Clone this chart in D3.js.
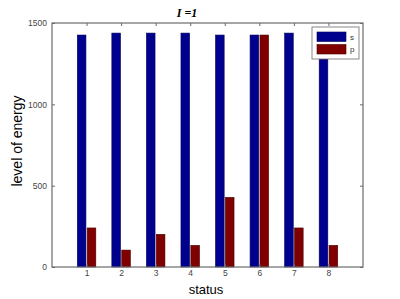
<!DOCTYPE html>
<html>
<head>
<meta charset="utf-8">
<script src="https://cdn.jsdelivr.net/npm/d3@7"></script>
<style>
  body { margin: 0; background: #fff; }
  svg { display: block; }
</style>
</head>
<body>
<div id="chart"></div>
<script>
const statuses = [1, 2, 3, 4, 5, 6, 7, 8];
const sValues = [1426, 1438, 1438, 1438, 1426, 1426, 1438, 1430];
const pValues = [240, 104, 201, 133, 428, 1426, 240, 133];
const yTicks = [0, 500, 1000, 1500];
const seriesNames = ['s', 'p'];
const colors = ['#00008f', '#800000'];

const width = 400, height = 299;
const plot = { left: 52, right: 363, top: 23, bottom: 267 };

const svg = d3.select('#chart').append('svg')
  .attr('width', width)
  .attr('height', height);

const x = d3.scaleLinear().domain([0, 9]).range([plot.left, plot.right]);
const y = d3.scaleLinear().domain([0, 1500]).range([plot.bottom, plot.top]);

// bars: two series grouped around each status
const offset = 0.143, barW = 0.25;
const series = [sValues, pValues];
series.forEach((vals, si) => {
  svg.append('g')
    .selectAll('rect')
    .data(statuses)
    .enter()
    .append('rect')
    .attr('x', d => x(d + (si === 0 ? -offset : offset) - barW / 2))
    .attr('y', (d, i) => y(vals[i]))
    .attr('width', x(barW) - x(0))
    .attr('height', (d, i) => y(0) - y(vals[i]))
    .attr('fill', colors[si])
    .attr('stroke', si === 0 ? '#00005a' : '#4a0000')
    .attr('stroke-width', 0.6);
});

// box with inward ticks (matlab style)
const axisColor = '#6b6b6b';
const tickStyle = g => {
  g.select('.domain').remove();
  g.selectAll('line').attr('stroke', axisColor);
  g.selectAll('text').attr('fill', '#444').style('font-family', 'Liberation Sans, Arial, sans-serif').style('font-size', '8.5px');
};

svg.append('g')
  .attr('transform', `translate(0,${plot.bottom})`)
  .call(d3.axisBottom(x).tickValues(statuses).tickSizeInner(-3).tickSizeOuter(0).tickPadding(3).tickFormat(d3.format('d')))
  .call(tickStyle);

svg.append('g')
  .attr('transform', `translate(0,${plot.top})`)
  .call(d3.axisTop(x).tickValues(statuses).tickSizeInner(-3).tickSizeOuter(0).tickFormat(''))
  .call(tickStyle);

svg.append('g')
  .attr('transform', `translate(${plot.left},0)`)
  .call(d3.axisLeft(y).tickValues(yTicks).tickSizeInner(-3).tickSizeOuter(0).tickPadding(5).tickFormat(d3.format('d')))
  .call(tickStyle);

svg.append('g')
  .attr('transform', `translate(${plot.right},0)`)
  .call(d3.axisRight(y).tickValues(yTicks).tickSizeInner(-3).tickSizeOuter(0).tickFormat(''))
  .call(tickStyle);

svg.append('rect')
  .attr('x', plot.left)
  .attr('y', plot.top)
  .attr('width', plot.right - plot.left)
  .attr('height', plot.bottom - plot.top)
  .attr('fill', 'none')
  .attr('stroke', axisColor)
  .attr('stroke-width', 1.2);

// title
svg.append('text')
  .attr('x', 187)
  .attr('y', 17)
  .attr('text-anchor', 'middle')
  .style('font-family', 'Liberation Serif, Times New Roman, serif')
  .style('font-style', 'italic')
  .style('font-weight', 'bold')
  .style('font-size', '12px')
  .text('I =1');

// axis labels
svg.append('text')
  .attr('transform', 'translate(22,141) rotate(-90)')
  .attr('text-anchor', 'middle')
  .style('font-family', 'Liberation Sans, Arial, sans-serif')
  .style('font-size', '14px')
  .text('level of energy');

svg.append('text')
  .attr('x', 206)
  .attr('y', 294)
  .attr('text-anchor', 'middle')
  .style('font-family', 'Liberation Sans, Arial, sans-serif')
  .style('font-size', '13px')
  .text('status');

// legend
const legend = svg.append('g').attr('transform', 'translate(312,27)');
legend.append('rect')
  .attr('width', 47)
  .attr('height', 32)
  .attr('fill', '#fff')
  .attr('stroke', axisColor)
  .attr('stroke-width', 0.8);
seriesNames.forEach((name, i) => {
  legend.append('rect')
    .attr('x', 5)
    .attr('y', 5 + i * 12.5)
    .attr('width', 29)
    .attr('height', 9.5)
    .attr('fill', colors[i])
    .attr('stroke', i === 0 ? '#00005a' : '#4a0000')
    .attr('stroke-width', 0.6);
  legend.append('text')
    .attr('x', 38)
    .attr('y', 12.5 + i * 12.5)
    .style('font-family', 'Liberation Sans, Arial, sans-serif')
    .style('font-size', '8px')
    .attr('fill', '#333')
    .text(name);
});
</script>
</body>
</html>
